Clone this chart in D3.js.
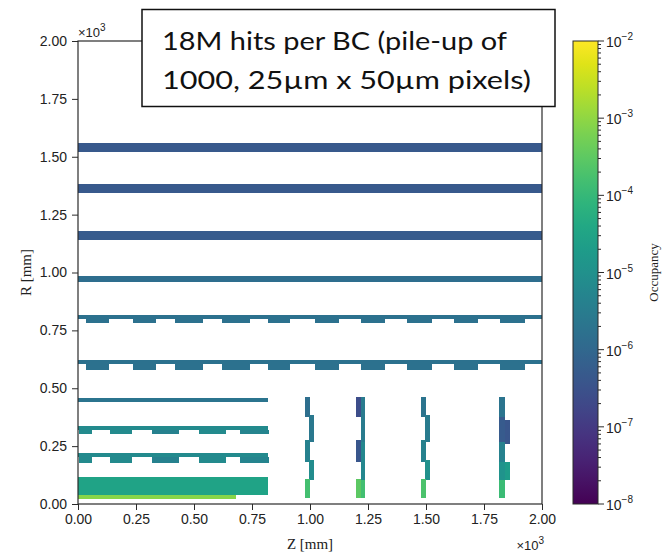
<!DOCTYPE html>
<html>
<head>
<meta charset="utf-8">
<script src="https://cdn.jsdelivr.net/npm/d3@7"></script>
<style>
  body { margin: 0; background: #fff; }
  svg { display: block; }
</style>
</head>
<body>
<svg id="chart" width="664" height="552"></svg>
<script>
// ---- axis ticks (mm) ----
const zTicks = [0, 250, 500, 750, 1000, 1250, 1500, 1750, 2000];
const rTicks = [0, 250, 500, 750, 1000, 1250, 1500, 1750, 2000];
const occExponents = [-2, -3, -4, -5, -6, -7, -8];

// ---- continuous barrel strips ----
const barrelZmax = [2000, 2000, 2000, 2000, 2000, 2000, 820, 820, 820];
const barrelRin  = [1522, 1342, 1140, 960, 798, 603, 439, 320, 202];
const barrelRout = [1561, 1381, 1181, 985, 816, 622, 457, 337, 219];
const barrelOcc  = [4.5e-7, 4.5e-7, 5e-7, 1.4e-6, 1.7e-6, 1.7e-6, 2e-6, 7e-6, 7e-6];

// ---- staggered modules hanging under the outer staggered layers ----
const outerTabZ0 = [33, 236, 417, 619, 820, 1020, 1220, 1420, 1620, 1820];
const outerTabZ1 = [135, 337, 540, 742, 915, 1125, 1325, 1525, 1725, 1925];
const outerTabRin  = [780, 580];
const outerTabRout = [798, 603];
const outerTabOcc  = [1.7e-6, 1.7e-6];

// ---- staggered modules under the inner staggered layers ----
const innerTabZ0 = [4, 137, 320, 522, 699];
const innerTabZ1 = [59, 232, 436, 636, 822];
const innerTabOcc = [7e-6, 7e-6, 4e-6, 7e-6, 5e-6];
const innerTabRin  = [301, 178];
const innerTabRout = [320, 202];

// ---- innermost layers ----
const innerZmax = [820, 681];
const innerRin  = [39, 20];
const innerRout = [118, 39];
const innerOcc  = [3e-5, 8e-4];

// ---- endcap disk modules ----
const diskZ0  = [978, 997, 978, 997, 978,
                 1198, 1198, 1198, 1218, 1218, 1218,
                 1477, 1496, 1477, 1496, 1477,
                 1815, 1815, 1815, 1815, 1815, 1839, 1839];
const diskZ1  = [1000, 1017, 1000, 1017, 1000,
                 1220, 1220, 1220, 1238, 1238, 1238,
                 1499, 1517, 1499, 1517, 1499,
                 1841, 1841, 1841, 1841, 1841, 1862, 1862];
const diskR0  = [377, 269, 183, 104, 25,
                 377, 183, 25, 269, 104, 25,
                 377, 269, 183, 104, 25,
                 377, 269, 183, 104, 25, 261, 104];
const diskR1  = [463, 384, 275, 190, 110,
                 463, 275, 110, 463, 269, 104,
                 463, 384, 275, 190, 110,
                 463, 377, 269, 183, 104, 363, 183];
const diskOcc = [1.5e-6, 2.5e-6, 4e-6, 8e-6, 1.6e-4,
                 2.5e-7, 4e-7, 3e-4, 3e-6, 6e-6, 1.5e-4,
                 2e-6, 3e-6, 4e-6, 1e-5, 2e-4,
                 2e-6, 5e-7, 4e-6, 1.2e-5, 1.2e-4, 4e-7, 2e-5];

// ---- layout ----
const plot = { left: 78, right: 542, top: 41, bottom: 504 };
const cbar = { left: 573, right: 598 };
const axisColor = "#2b2b2b";
const tickFont = "'Liberation Sans', Arial, sans-serif";
const serifFont = "'Liberation Serif', 'DejaVu Serif', serif";

const svg = d3.select("#chart");

const z = d3.scaleLinear().domain([0, 2000]).range([plot.left, plot.right]);
const r = d3.scaleLinear().domain([0, 2000]).range([plot.bottom, plot.top]);
const color = d3.scaleSequentialLog(d3.interpolateViridis).domain([1e-8, 1e-2]);

const marks = svg.append("g").attr("shape-rendering", "crispEdges");

function band(z0, z1, r0, r1, v) {
  marks.append("rect")
    .attr("x", z(z0))
    .attr("y", r(r1))
    .attr("width", z(z1) - z(z0))
    .attr("height", r(r0) - r(r1))
    .attr("fill", color(v));
}

// barrel strips
barrelZmax.forEach((zm, i) => band(0, zm, barrelRin[i], barrelRout[i], barrelOcc[i]));

// staggered modules
outerTabRin.forEach((rin, j) => {
  outerTabZ0.forEach((z0, k) => band(z0, outerTabZ1[k], rin, outerTabRout[j], outerTabOcc[j]));
});
innerTabRin.forEach((rin, j) => {
  innerTabZ0.forEach((z0, k) => band(z0, innerTabZ1[k], rin, innerTabRout[j], innerTabOcc[k]));
});

// innermost layers
innerZmax.forEach((zm, i) => band(0, zm, innerRin[i], innerRout[i], innerOcc[i]));

// disks
diskZ0.forEach((z0, i) => band(z0, diskZ1[i], diskR0[i], diskR1[i], diskOcc[i]));

// ---- axes ----
const xAxis = d3.axisBottom(z).tickValues(zTicks).tickSize(6).tickPadding(4)
  .tickFormat(d => (d / 1000).toFixed(2));
const yAxis = d3.axisLeft(r).tickValues(rTicks).tickSize(6).tickPadding(5)
  .tickFormat(d => (d / 1000).toFixed(2));

function styleAxis(g) {
  g.select(".domain").remove();
  g.selectAll(".tick line").attr("stroke", axisColor);
  g.selectAll(".tick text").attr("fill", "#222")
    .style("font-family", tickFont).style("font-size", "14px");
}

svg.append("g").attr("transform", `translate(0,${plot.bottom})`).call(xAxis).call(styleAxis);
svg.append("g").attr("transform", `translate(${plot.left},0)`).call(yAxis).call(styleAxis);

// frame
svg.append("rect")
  .attr("x", plot.left).attr("y", plot.top)
  .attr("width", plot.right - plot.left).attr("height", plot.bottom - plot.top)
  .attr("fill", "none").attr("stroke", axisColor).attr("stroke-width", 1.2);

// offset text ×10³
function offsetLabel(x, y, anchor) {
  const t = svg.append("text").attr("x", x).attr("y", y).attr("text-anchor", anchor)
    .style("font-family", tickFont).style("font-size", "13px").attr("fill", "#222");
  t.append("tspan").text("×10");
  t.append("tspan").attr("dy", -6).style("font-size", "10px").text("3");
}
offsetLabel(78, 37, "start");
offsetLabel(544, 550, "end");

// axis titles
svg.append("text").attr("x", z(1000)).attr("y", 549).attr("text-anchor", "middle")
  .style("font-family", serifFont).style("font-size", "15px").attr("fill", "#222")
  .text("Z [mm]");
svg.append("text").attr("transform", `translate(31,${(plot.top + plot.bottom) / 2}) rotate(-90)`)
  .attr("text-anchor", "middle")
  .style("font-family", serifFont).style("font-size", "15px").attr("fill", "#222")
  .text("R [mm]");

// ---- colour bar ----
const cy = d3.scaleLog().domain([1e-8, 1e-2]).range([plot.bottom, plot.top]);
const grad = svg.append("defs").append("linearGradient")
  .attr("id", "occGrad").attr("x1", 0).attr("y1", 1).attr("x2", 0).attr("y2", 0);
d3.range(0, 1.0001, 0.05).forEach(t => {
  grad.append("stop").attr("offset", t).attr("stop-color", d3.interpolateViridis(t));
});
svg.append("rect")
  .attr("x", cbar.left).attr("y", plot.top)
  .attr("width", cbar.right - cbar.left).attr("height", plot.bottom - plot.top)
  .attr("fill", "url(#occGrad)").attr("stroke", axisColor).attr("stroke-width", 1);

const cTicks = cy.ticks();
svg.append("g").selectAll("line").data(cTicks).join("line")
  .attr("x1", cbar.right).attr("x2", d => cbar.right + (Number.isInteger(Math.log10(d)) ? 6 : 3))
  .attr("y1", d => cy(d)).attr("y2", d => cy(d))
  .attr("stroke", axisColor).attr("stroke-width", 1);

const cLabels = svg.append("g").selectAll("text").data(occExponents).join("text")
  .attr("x", cbar.right + 8).attr("y", e => cy(Math.pow(10, e)) + 6)
  .style("font-family", tickFont).style("font-size", "14px").attr("fill", "#222");
cLabels.append("tspan").text("10");
cLabels.append("tspan").attr("dy", -7).style("font-size", "10px").text(e => "−" + Math.abs(e));

svg.append("text").attr("transform", `translate(658,${(plot.top + plot.bottom) / 2}) rotate(-90)`)
  .attr("text-anchor", "middle")
  .style("font-family", serifFont).style("font-size", "13px").attr("fill", "#222")
  .text("Occupancy");

// ---- annotation box ----
svg.append("rect").attr("x", 142).attr("y", 9.5).attr("width", 413).attr("height", 97)
  .attr("fill", "#fff").attr("stroke", "#111").attr("stroke-width", 1.5);
const noteLines = ["18M hits per BC (pile-up of", "1000, 25µm x 50µm pixels)"];
const noteWidths = [345, 369];
const note = svg.append("g").style("font-family", "Lato, 'Open Sans', sans-serif")
  .style("font-size", "25px").attr("fill", "#111");
noteLines.forEach((line, i) => {
  note.append("text").attr("x", 162).attr("y", 50 + i * 39)
    .attr("textLength", noteWidths[i]).attr("lengthAdjust", "spacingAndGlyphs")
    .text(line);
});
</script>
</body>
</html>
